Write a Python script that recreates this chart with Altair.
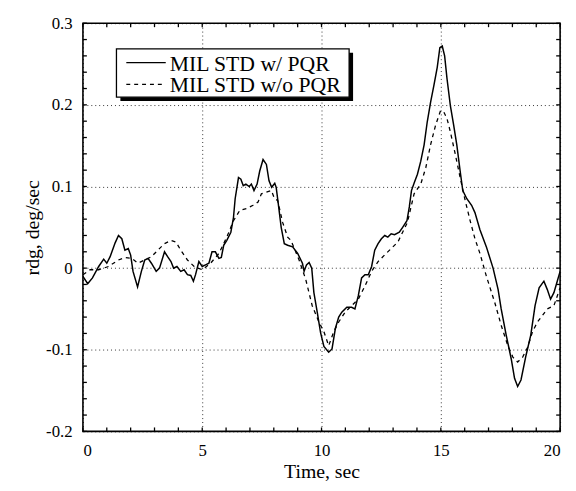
import altair as alt
import pandas as pd

# ---- data ----
t_pqr = [0.0, 0.2, 0.4, 0.66, 0.87, 1.0, 1.14, 1.35, 1.49, 1.63, 1.76, 1.9, 2.0, 2.1, 2.29, 2.45,
         2.59, 2.73, 2.87, 3.07, 3.21, 3.42, 3.55, 3.69, 3.8, 3.94, 4.1, 4.24, 4.38, 4.52, 4.63,
         4.72, 4.86, 5.0, 5.14, 5.28, 5.41, 5.55, 5.7, 5.8, 5.9, 6.03, 6.2, 6.31, 6.38, 6.52,
         6.62, 6.72, 6.83, 6.97, 7.06, 7.17, 7.3, 7.41, 7.55, 7.69, 7.8, 7.91, 8.04, 8.1, 8.17,
         8.31, 8.44, 8.58, 8.79, 9.0, 9.2, 9.27, 9.37, 9.48, 9.59, 9.68, 9.82, 9.96, 10.1, 10.3,
         10.44, 10.58, 10.72, 10.85, 11.06, 11.26, 11.4, 11.54, 11.68, 11.82, 11.96, 12.1, 12.23,
         12.37, 12.51, 12.65, 12.78, 12.92, 13.06, 13.26, 13.4, 13.58, 13.68, 13.77, 13.89,
         14.02, 14.16, 14.3, 14.43, 14.57, 14.71, 14.85, 14.96, 15.06, 15.16, 15.26, 15.4, 15.54,
         15.67, 15.81, 15.92, 16.09, 16.29, 16.43, 16.64, 16.91, 17.19, 17.4, 17.53, 17.74,
         17.95, 18.09, 18.22, 18.36, 18.57, 18.77, 18.95, 19.12, 19.32, 19.46, 19.6, 19.74,
         19.88, 20.0]
v_pqr = [-0.01, -0.019, -0.012, 0.002, 0.011, 0.006, 0.014, 0.031, 0.04, 0.036, 0.022, 0.024,
         0.016, -0.004, -0.023, -0.004, 0.01, 0.012, 0.006, -0.004, 0.0, 0.02, 0.014, 0.008, 0.0,
         0.002, -0.004, -0.002, -0.008, -0.009, -0.016, -0.008, 0.008, 0.002, 0.004, 0.006, 0.02,
         0.02, 0.012, 0.013, 0.028, 0.034, 0.044, 0.062, 0.085, 0.111, 0.109, 0.101, 0.103, 0.1,
         0.103, 0.095, 0.103, 0.119, 0.133, 0.127, 0.107, 0.099, 0.104, 0.099, 0.083, 0.05, 0.03,
         0.028, 0.026, 0.018, 0.006, -0.004, 0.004, 0.007, 0.0, -0.03, -0.054, -0.079, -0.096,
         -0.103, -0.099, -0.074, -0.06, -0.054, -0.048, -0.048, -0.05, -0.034, -0.012, -0.008,
         -0.008, 0.002, 0.022, 0.03, 0.036, 0.04, 0.038, 0.042, 0.041, 0.044, 0.05, 0.058, 0.075,
         0.095, 0.105, 0.115, 0.131, 0.151, 0.179, 0.203, 0.224, 0.246, 0.27, 0.272, 0.26, 0.232,
         0.199, 0.175, 0.151, 0.119, 0.095, 0.085, 0.077, 0.068, 0.047, 0.026, 0.0, -0.026,
         -0.05, -0.082, -0.111, -0.135, -0.145, -0.137, -0.107, -0.082, -0.046, -0.024, -0.016,
         -0.026, -0.038, -0.03, -0.016, -0.004]

t_nopqr = [0.0, 0.3, 0.66, 1.07, 1.49, 1.76, 2.04, 2.31, 2.59, 2.87, 3.14, 3.42, 3.69, 3.9, 4.1,
           4.38, 4.66, 5.0, 5.35, 5.7, 6.03, 6.31, 6.58, 6.86, 7.13, 7.34, 7.48, 7.69, 7.9, 8.03,
           8.16, 8.37, 8.58, 8.72, 9.06, 9.34, 9.61, 9.89, 10.1, 10.3, 10.51, 10.72, 10.99, 11.26,
           11.54, 11.82, 12.1, 12.37, 12.64, 12.92, 13.2, 13.4, 13.6, 13.88, 14.16, 14.37, 14.57,
           14.78, 14.99, 15.13, 15.26, 15.4, 15.61, 15.81, 16.02, 16.23, 16.43, 16.64, 16.91,
           17.26, 17.53, 17.81, 18.02, 18.22, 18.43, 18.64, 18.84, 19.05, 19.26, 19.46, 19.74,
           20.0]
v_nopqr = [-0.008, -0.002, -0.002, 0.002, 0.01, 0.013, 0.012, 0.006, 0.01, 0.014, 0.022, 0.03,
           0.034, 0.032, 0.022, 0.01, 0.002, -0.002, 0.006, 0.018, 0.038, 0.058, 0.071, 0.073,
           0.077, 0.081, 0.091, 0.093, 0.095, 0.085, 0.083, 0.056, 0.038, 0.034, 0.01, -0.014,
           -0.046, -0.066, -0.078, -0.095, -0.078, -0.066, -0.054, -0.046, -0.038, -0.022, -0.004,
           0.008, 0.016, 0.024, 0.032, 0.044, 0.056, 0.091, 0.103, 0.123, 0.151, 0.175, 0.193,
           0.191, 0.183, 0.167, 0.139, 0.111, 0.083, 0.058, 0.036, 0.018, -0.01, -0.042, -0.07,
           -0.095, -0.109, -0.115, -0.109, -0.097, -0.078, -0.066, -0.058, -0.05, -0.046, -0.024]

legend_labels = ["MIL STD w/ PQR", "MIL STD w/o PQR"]
x_major = [0, 5, 10, 15, 20]
y_major = [-0.2, -0.1, 0.0, 0.1, 0.2, 0.3]
x_ticks = list(range(0, 21))
y_ticks = [round(-0.2 + 0.02 * i, 2) for i in range(26)]

W, H = 484, 414
FONT = "Liberation Serif"

xs = alt.Scale(domain=[0, 20], nice=False, zero=False)
ys = alt.Scale(domain=[-0.2, 0.3], nice=False, zero=False)

df1 = pd.DataFrame({"t": t_pqr, "v": v_pqr})
df2 = pd.DataFrame({"t": t_nopqr, "v": v_nopqr})

xaxis = alt.Axis(values=x_major, grid=True, ticks=False, domain=False, labelFont=FONT,
                 labelFontSize=17, labelColor="black", labelPadding=11, title="Time, sec",
                 titleFont=FONT, titleFontSize=20, titleFontWeight="normal", titleColor="black",
                 titlePadding=4, gridColor="black", gridDash=[1, 3], gridWidth=1, gridOpacity=0.8)
yaxis = alt.Axis(values=y_major, grid=True, ticks=False, domain=False, labelFont=FONT,
                 labelFontSize=17, labelColor="black", labelPadding=11,
                 labelExpr="datum.value == 0 ? '0' : (datum.value < 0 ? '-' + format(-datum.value, '.1f') : format(datum.value, '.1f'))",
                 title="rdg, deg/sec", titleFont=FONT, titleFontSize=20, titleFontWeight="normal",
                 titleColor="black", titlePadding=3, gridColor="black", gridDash=[1, 3],
                 gridWidth=1, gridOpacity=0.8)

solid = alt.Chart(df1).mark_line(color="black", strokeWidth=1.5, clip=True).encode(
    x=alt.X("t:Q", scale=xs, axis=xaxis),
    y=alt.Y("v:Q", scale=ys, axis=yaxis),
)
dashed = alt.Chart(df2).mark_line(color="black", strokeWidth=1.3, strokeDash=[4, 4], clip=True).encode(
    x=alt.X("t:Q", scale=xs),
    y=alt.Y("v:Q", scale=ys),
)

# inward ticks on all four sides
xt = pd.DataFrame({"t": x_ticks})
yt = pd.DataFrame({"v": y_ticks})

tick_bottom = alt.Chart(xt).mark_rule(color="black", strokeWidth=1.3).encode(
    x=alt.X("t:Q", scale=xs), y=alt.value(H), y2=alt.value(H - 4))
tick_top = alt.Chart(xt).mark_rule(color="black", strokeWidth=1.3).encode(
    x=alt.X("t:Q", scale=xs), y=alt.value(0), y2=alt.value(4))
tick_left = alt.Chart(yt).mark_rule(color="black", strokeWidth=1.3).encode(
    y=alt.Y("v:Q", scale=ys), x=alt.value(0), x2=alt.value(4))
tick_right = alt.Chart(yt).mark_rule(color="black", strokeWidth=1.3).encode(
    y=alt.Y("v:Q", scale=ys), x=alt.value(W), x2=alt.value(W - 4))

# legend box with drop shadow
one = pd.DataFrame({"k": [0]})
shadow = alt.Chart(one).mark_rect(color="black").encode(
    x=alt.value(38), x2=alt.value(274), y=alt.value(30), y2=alt.value(79))
box = alt.Chart(one).mark_rect(fill="white", stroke="black", strokeWidth=1.3).encode(
    x=alt.value(34), x2=alt.value(270), y=alt.value(26), y2=alt.value(75))
leg_solid = alt.Chart(one).mark_rule(color="black", strokeWidth=1.4).encode(
    x=alt.value(44), x2=alt.value(84), y=alt.value(40))
leg_dash = alt.Chart(one).mark_rule(color="black", strokeWidth=1.2, strokeDash=[4, 4]).encode(
    x=alt.value(44), x2=alt.value(84), y=alt.value(62))
leg_t1 = alt.Chart(one).mark_text(font=FONT, fontSize=22, align="left", baseline="middle",
                                  color="black").encode(
    x=alt.value(88), y=alt.value(41), text=alt.value(legend_labels[0]))
leg_t2 = alt.Chart(one).mark_text(font=FONT, fontSize=22, align="left", baseline="middle",
                                  color="black").encode(
    x=alt.value(88), y=alt.value(63), text=alt.value(legend_labels[1]))

chart = alt.layer(
    solid, dashed, tick_bottom, tick_top, tick_left, tick_right,
    shadow, box, leg_solid, leg_dash, leg_t1, leg_t2
).properties(
    width=W, height=H,
    autosize=alt.AutoSizeParams(type="none"),
    padding={"left": 76, "top": 12, "right": 8, "bottom": 56},
    background="white",
).configure_view(stroke="black", strokeWidth=1.6)

chart.save("out.html", embed_options={"renderer": "svg", "actions": False})
